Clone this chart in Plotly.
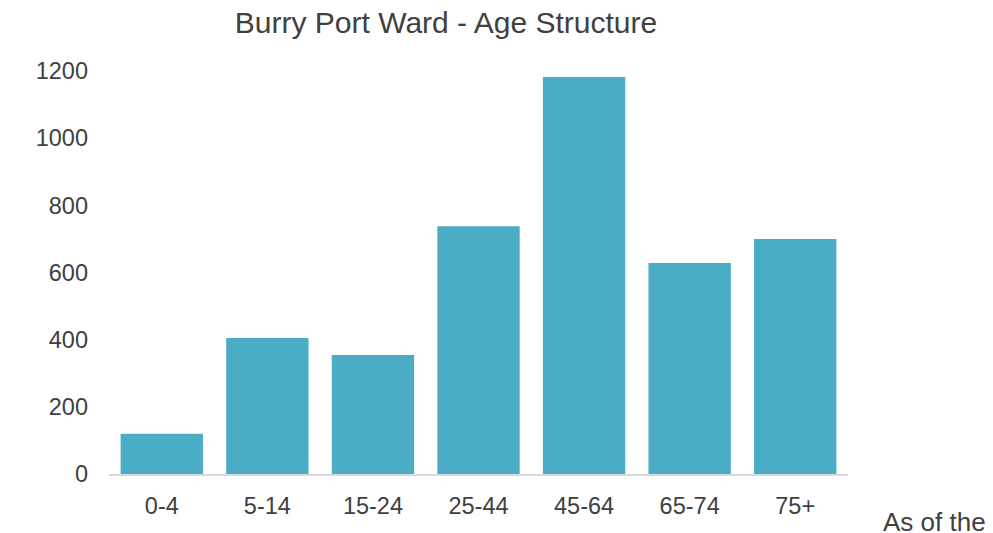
import plotly.graph_objects as go

categories = ["0-4", "5-14", "15-24", "25-44", "45-64", "65-74", "75+"]
population = [120, 405, 354, 738, 1182, 628, 700]
y_ticks = [0, 200, 400, 600, 800, 1000, 1200]

FONT = "Liberation Sans, Arial, sans-serif"

fig = go.Figure(go.Bar(x=categories, y=population, marker_color="#4BACC6",
                       marker_line_width=0))
fig.update_layout(
    width=993, height=533,
    margin=dict(l=101, r=153, t=63, b=67),
    paper_bgcolor="white", plot_bgcolor="white",
    bargap=0.22,
    font=dict(family=FONT, color="#404040", size=23.5),
    title=dict(text="Burry Port Ward - Age Structure", x=438/993, xanchor="center",
               y=1-14/533, yanchor="middle", font=dict(size=30, color="#404040")),
    showlegend=False,
)
fig.update_xaxes(showline=True, linecolor="#D9D9D9", linewidth=2, showgrid=False,
                 ticks="", ticklabelstandoff=10, tickfont=dict(size=23.5))
fig.update_yaxes(range=[0, 1200], tickvals=y_ticks, showgrid=False, zeroline=False,
                 showline=False, ticks="", ticklabelstandoff=20, tickfont=dict(size=23.5))
fig.add_annotation(text="As of the", xref="paper", yref="paper", x=(980-101)/739, xanchor="right",
                   y=-48/403, yanchor="middle", showarrow=False,
                   font=dict(size=26, color="#404040"))
fig.write_html("out.html")
